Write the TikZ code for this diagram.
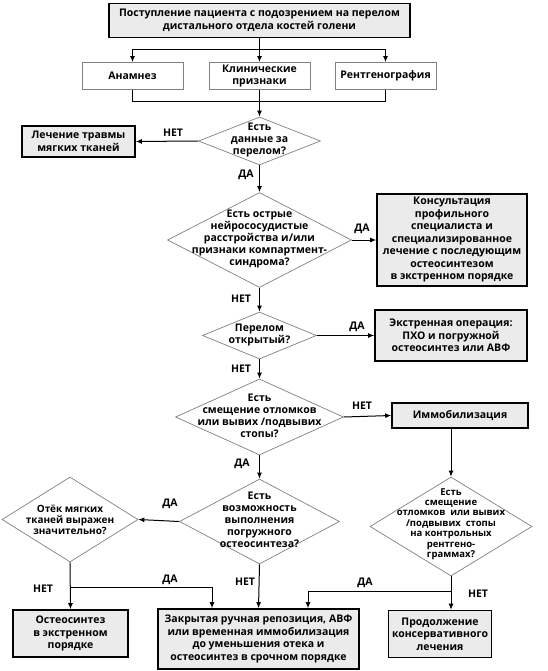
\documentclass[tikz,border=0pt]{standalone}
\usepackage{fontspec}
\setmainfont{Open Sans}
\usetikzlibrary{shapes.geometric,arrows.meta}
\definecolor{boxgray}{HTML}{EBEBEB}
\definecolor{linegray}{HTML}{808080}
\begin{document}
\begin{tikzpicture}[x=1pt,y=-1pt,
  font=\bfseries\fontsize{10.5}{12.5}\selectfont,
  every node/.style={inner sep=0pt, align=center},
  mainbox/.style={draw=black, line width=1.6pt, fill=boxgray, rectangle},
  infobox/.style={draw=linegray, line width=0.8pt, fill=white, rectangle},
  dia/.style={draw=linegray, line width=0.7pt, diamond, fill=white, inner sep=0pt},
  dtext/.style={font=\bfseries\fontsize{10.5}{12}\selectfont},
  arr/.style={-{Latex[length=6pt,width=5pt]}, line width=1pt},
  lnk/.style={line width=1pt},
  lbl/.style={font=\bfseries\fontsize{10.5}{12}\selectfont}
]
\useasboundingbox (0,0) rectangle (548,671);

% boxes
\node[mainbox, minimum width=301, minimum height=34] (top) at (259.5,20.5)
  {Поступление пациента с подозрением на перелом\\дистального отдела костей голени};
\node[infobox, minimum width=101, minimum height=27] (anam) at (132.5,76) {Анамнез};
\node[infobox, minimum width=101, minimum height=27] (klin) at (259.5,76) {Клинические\\признаки};
\node[infobox, minimum width=101, minimum height=27] (rent) at (385.5,76) {Рентгенография};

\node[dia, minimum width=122, minimum height=48] (d1) at (259.5,141) {};
\node[dtext] (d1t) at (259.5,140) {Есть\\данные за\\перелом?};
\node[mainbox, minimum width=113, minimum height=31] (lech) at (78.5,141.5) {Лечение травмы\\мягких тканей};

\node[dia, minimum width=184, minimum height=95] (d2) at (259.5,240) {};
\node[dtext] (d2t) at (259.5,239) {Есть острые\\нейрососудистые\\расстройства и/или\\признаки компартмент-\\синдрома?};
\node[mainbox, minimum width=150, minimum height=92] (kons) at (452,240)
  {Консультация\\профильного\\специалиста и\\специализированное\\лечение с последующим\\остеосинтезом\\в экстренном порядке};

\node[dia, minimum width=114, minimum height=47] (d3) at (259.5,335.5) {};
\node[dtext] (d3t) at (259.5,335) {Перелом\\открытый?};
\node[mainbox, minimum width=152, minimum height=51] (ekstr) at (451,335.5)
  {Экстренная операция:\\ПХО и погружной\\остеосинтез или АВФ};

\node[dia, minimum width=168, minimum height=76] (d4) at (259.5,417) {};
\node[dtext] (d4t) at (259.5,415.5) {Есть\\смещение отломков\\или вывих /подвывих\\стопы?};
\node[mainbox, minimum width=136, minimum height=25] (immob) at (460,415.5) {Иммобилизация};

\node[dia, minimum width=160, minimum height=85] (d6) at (259.5,521.5) {};
\node[dtext] (d6t) at (259.5,519.5) {Есть\\возможность\\выполнения\\погружного\\остеосинтеза?};

\node[dia, minimum width=136, minimum height=85] (d5) at (70,519.5) {};
\node[dtext, font=\bfseries\fontsize{10}{10.8}\selectfont] (d5t) at (70,519.5) {Отёк мягких\\тканей выражен\\значительно?};

\node[dia, minimum width=162, minimum height=99] (d7) at (451,526.5) {};
\node[dtext, font=\bfseries\fontsize{9.5}{10.4}\selectfont] (d7t) at (451,524) {Есть\\смещение\\отломков~ или вывих\\/подвывих~ стопы\\на контрольных\\рентгено-\\граммах?};

\node[mainbox, minimum width=115, minimum height=47] (osteo) at (70.5,633.5) {Остеосинтез\\в экстренном\\порядке};
\node[mainbox, minimum width=201, minimum height=60] (zakr) at (258.5,639)
  {Закрытая ручная репозиция, АВФ\\или временная иммобилизация\\до уменьшения отека и\\остеосинтез в срочном порядке};
\node[mainbox, minimum width=103, minimum height=47] (prod) at (440,634) {Продолжение\\консервативного\\лечения};

% junctions
\coordinate (j1) at (259.5,50);
\coordinate (j2) at (259.5,102);
\coordinate (jl) at (70,587);
\coordinate (jr) at (451,591);
\coordinate (zl) at (212,587);
\coordinate (zr) at (308,591);

% connectors top
\draw[lnk] (top.south) -- (j1);
\draw[arr] (j1) -- (klin.north);
\draw[arr] (j1) -| (anam.north);
\draw[arr] (j1) -| (rent.north);
\draw[lnk] (anam.south) |- (j2);
\draw[lnk] (rent.south) |- (j2);
\draw[lnk] (klin.south) -- (j2);
\draw[arr] (j2) -- (d1.north);

\draw[arr] (d1.west) -- (lech.east);
\draw[arr] (d1.south) -- (d2.north);
\draw[arr] (d2.east) -- (kons.west);
\draw[arr] (d2.south) -- (d3.north);
\draw[arr] (d3.east) -- (ekstr.west);
\draw[arr] (d3.south) -- (d4.north);
\draw[arr] (d4.east) -- (immob.west);
\draw[arr] (d4.south) -- (d6.north);
\draw[arr] (immob.south -| d7.north) -- (d7.north);
\draw[arr] (d6.west) -- (d5.east);
\draw[arr] (d5.south) -- (osteo.north);
\draw[lnk] (jl) -- (zl);
\draw[arr] (zl) -- (zakr.north -| zl);
\draw[arr] (d6.south) -- (zakr.north);
\draw[arr] (d7.south) -- (prod.north -| d7.south);
\draw[lnk] (jr) -- (zr);
\draw[arr] (zr) -- (zakr.north -| zr);

% labels
\node[lbl] (l1) at (173,133) {НЕТ};
\node[lbl] (l2) at (246,175) {ДА};
\node[lbl] (l3) at (362,229) {ДА};
\node[lbl] (l4) at (241,299) {НЕТ};
\node[lbl] (l5) at (357,327) {ДА};
\node[lbl] (l6) at (241,369) {НЕТ};
\node[lbl] (l7) at (362,406) {НЕТ};
\node[lbl] (l8) at (242,464) {ДА};
\node[lbl] (l9) at (170,504) {ДА};
\node[lbl] (l10) at (43,589) {НЕТ};
\node[lbl] (l11) at (170,580) {ДА};
\node[lbl] (l12) at (245,582) {НЕТ};
\node[lbl] (l13) at (365,583) {ДА};
\node[lbl] (l14) at (478,594) {НЕТ};
\end{tikzpicture}
\end{document}
